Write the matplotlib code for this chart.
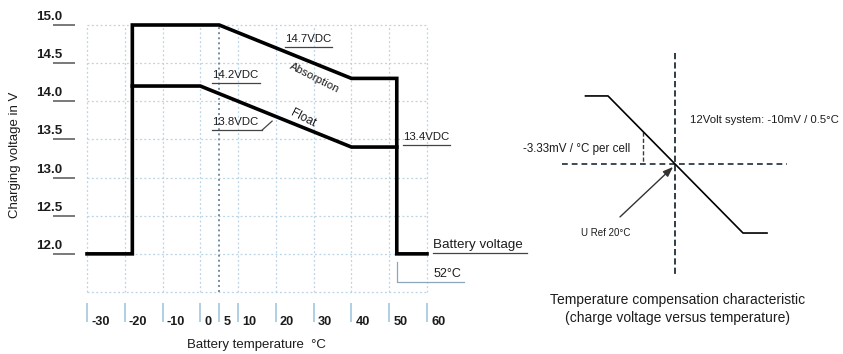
import numpy as np
import matplotlib
matplotlib.use("Agg")
import matplotlib.pyplot as plt

plt.rcParams['font.family'] = ['Liberation Sans', 'DejaVu Sans']

# ---------------- data ----------------
x_ticks = [-30, -20, -10, 0, 5, 10, 20, 30, 40, 50, 60]
x_grid = [-30, -20, -10, 0, 10, 20, 30, 40, 50, 60]
y_grid = [11.5, 12.0, 12.5, 13.0, 13.5, 14.0, 14.5, 15.0]
y_labels = [12.0, 12.5, 13.0, 13.5, 14.0, 14.5, 15.0]

# Absorption / battery voltage path (deg C, V)
abs_temp = [-30, -18, -18, 5, 40, 52, 52, 60]
abs_volt = [12.0, 12.0, 15.0, 15.0, 14.3, 14.3, 12.0, 12.0]
# Float path
float_temp = [-18, 0, 40, 52]
float_volt = [14.2, 14.2, 13.4, 13.4]

# Temperature compensation schematic (deg C, relative voltage)
comp_temp = [-10, -2.5, 42.5, 50.5]
comp_dv = [23, 23, -23, -23]
ref_temp = 20
ref_dv = 0

# ---------------- figure ----------------
W, H = 843, 354
fig = plt.figure(figsize=(W / 100, H / 100), dpi=100)
fig.patch.set_facecolor('white')

ax = fig.add_axes([87 / W, 1 - 292 / H, 340 / W, 267 / H])
ax.set_xlim(-30, 60)
ax.set_ylim(11.5, 15.0)
ax.axis('off')

grid_c = '#b9d4e4'
ax.vlines(x_grid, 11.5, 15.0, colors=grid_c, linestyles=(0, (1.5, 2)), lw=0.9, clip_on=False)
ax.hlines(y_grid, -30, 60, colors=grid_c, linestyles=(0, (1.5, 2)), lw=0.9, clip_on=False)
ax.vlines([5], 11.5, 15.0, colors='#6f8ea3', linestyles=(0, (1, 1.6)), lw=1.4, clip_on=False)

txt_c = '#1c1c1c'
# y tick labels with underline
for v in y_labels:
    ax.annotate(f"{v:.1f}", xy=(-30, v), xytext=(-51, 8), textcoords='offset pixels',
                ha='left', va='center', fontsize=9.6, fontweight='bold', color=txt_c,
                annotation_clip=False)
ax.hlines(y_labels, -0.100, -0.035, transform=ax.get_yaxis_transform(), colors='#555555',
          lw=1.1, clip_on=False)

# x tick marks and labels
ax.vlines(x_ticks, -0.041, -0.112, transform=ax.get_xaxis_transform(), colors='#a9cde0',
          lw=1.3, clip_on=False)
for t in x_ticks:
    ax.annotate(f"{t}", xy=(t, 11.5), xytext=(4, -30), textcoords='offset pixels',
                ha='left', va='center', fontsize=9.2, fontweight='bold', color=txt_c,
                annotation_clip=False)

fig.text(256 / W, 1 - 345 / H, 'Battery temperature  \u00b0C', ha='center', va='center',
         fontsize=9.5, color=txt_c)
fig.text(15 / W, 1 - 155 / H, 'Charging voltage in V', ha='center', va='center',
         rotation=90, fontsize=9.5, color=txt_c)

# main curves
ax.plot(abs_temp, abs_volt, color='black', lw=2.6, solid_joinstyle='miter', clip_on=False)
ax.plot(float_temp, float_volt, color='black', lw=2.6, solid_joinstyle='miter', clip_on=False)

ann_fs = 8.2
def underlined(text, x0, x1, y_line, dy_text=3, fs=ann_fs):
    ax.plot([x0, x1], [y_line, y_line], color='#444444', lw=0.9, clip_on=False)
    ax.annotate(text, xy=(x0, y_line), xytext=(0, dy_text), textcoords='offset pixels',
                ha='left', va='bottom', fontsize=fs, color=txt_c, annotation_clip=False)

underlined('14.7VDC', 22.4, 34.8, 14.71)
underlined('14.2VDC', 3.1, 15.8, 14.24)
underlined('13.8VDC', 3.1, 16.3, 13.62)
ax.plot([16.3, 19.0], [13.62, 13.74], color='#444444', lw=0.9, clip_on=False)
underlined('13.4VDC', 53.6, 66.0, 13.43)
underlined('Battery voltage', 61.6, 86.5, 12.01, dy_text=2, fs=9.6)

# 52 C leader
ax.plot([52, 52, 69.7], [11.89, 11.63, 11.63], color='#8aa8ba', lw=0.9, clip_on=False)
ax.annotate('52\u00b0C', xy=(61.6, 11.63), xytext=(0, 2), textcoords='offset pixels',
            ha='left', va='bottom', fontsize=9, color=txt_c, annotation_clip=False)

ax.text(30.3, 14.31, 'Absorption', rotation=-27, ha='center', va='center',
        fontsize=8.2, color=txt_c, rotation_mode='anchor')
ax.text(27.2, 13.78, 'Float', rotation=-27, ha='center', va='center',
        fontsize=8.6, color=txt_c, rotation_mode='anchor')

# ---------------- right schematic ----------------
ax2 = fig.add_axes([520 / W, 0, 323 / W, 1])
ax2.set_xlim(-31.83, 75.83)
ax2.set_ylim(-63.6, 55.2)
ax2.axis('off')

dash_c = '#2f3d47'
ax2.plot([ref_temp, ref_temp], [37.4, -37.1], color=dash_c, lw=1.4, linestyle=(0, (3.2, 1.6)))
ax2.plot([-17.8, 57.2], [ref_dv, ref_dv], color=dash_c, lw=1.3, linestyle=(0, (3.2, 2.2)))
x_small = 9.2
y_small = comp_dv[1] + (comp_dv[2] - comp_dv[1]) * (x_small - comp_temp[1]) / (comp_temp[2] - comp_temp[1])
ax2.plot([x_small, x_small], [y_small, ref_dv], color=dash_c, lw=1.0, linestyle=(0, (3, 1.5)))
ax2.plot(comp_temp, comp_dv, color='black', lw=1.2)

ax2.annotate('', xy=(ref_temp - 0.8, ref_dv - 0.8), xytext=(1.5, -17.6),
             arrowprops=dict(arrowstyle='-|>,head_length=0.6,head_width=0.22',
                             color='#333333', lw=1.0, shrinkA=0, shrinkB=0))

ax2.text(4.8, 5.2, '-3.33mV / \u00b0C per cell', ha='right', va='center',
         fontsize=8.4, color=txt_c)
ax2.text(24.8, 14.9, '12Volt system: -10mV / 0.5\u00b0C', ha='left', va='center',
         fontsize=8.2, color=txt_c)
ax2.text(-3.3, -23, 'U Ref 20\u00b0C', ha='center', va='center', fontsize=7.0, color=txt_c)
ax2.text(20.8, -45.5, 'Temperature compensation characteristic', ha='center', va='center',
         fontsize=10, color=txt_c)
ax2.text(20.8, -51.5, '(charge voltage versus temperature)', ha='center', va='center',
         fontsize=10, color=txt_c)

fig.savefig('out.png', dpi=100, facecolor='white')
